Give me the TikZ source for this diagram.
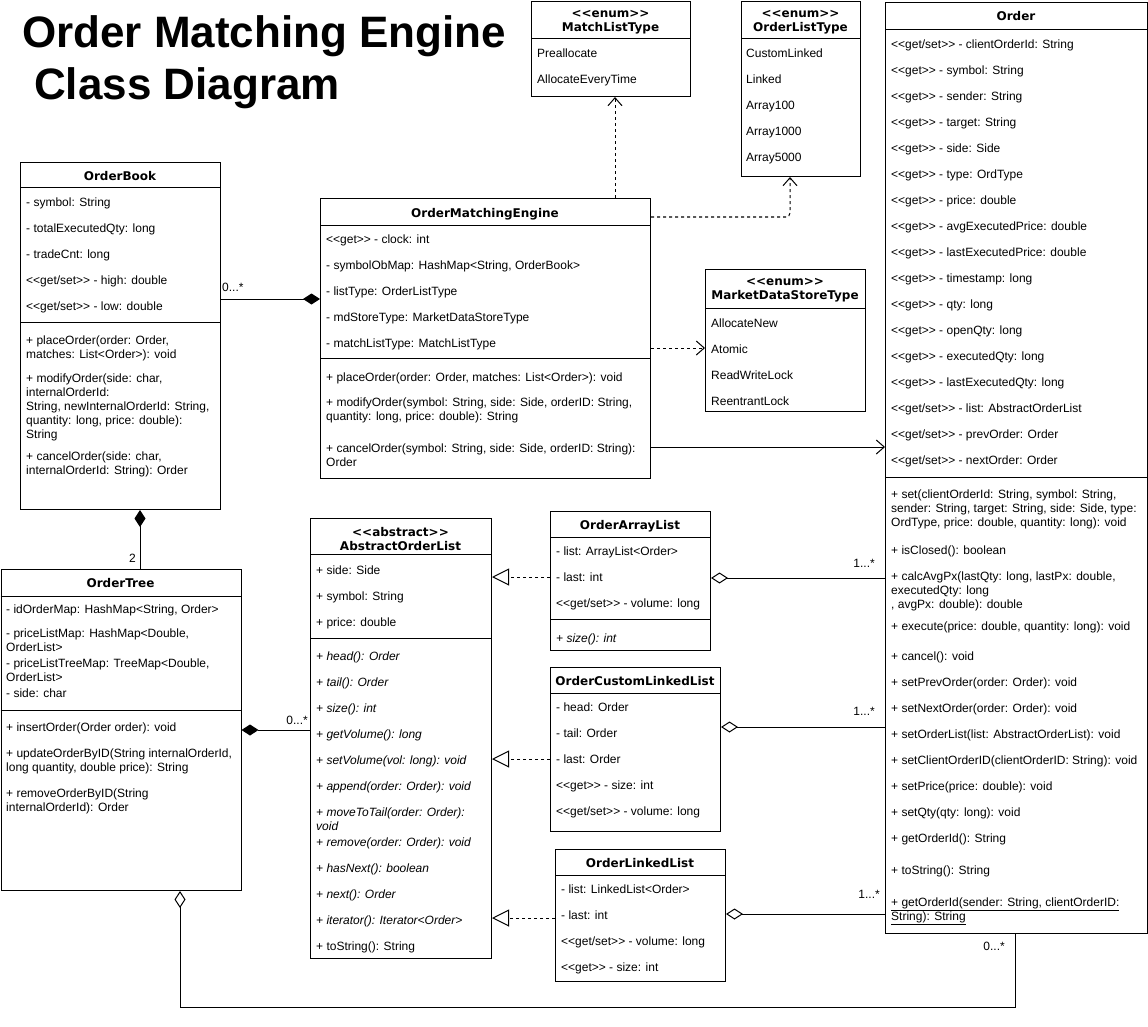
\documentclass[tikz,border=0pt]{standalone}
\usepackage{fontspec}
\setmainfont{Liberation Sans}
\newfontfamily\headfont{DejaVu Sans}
\usetikzlibrary{arrows.meta,positioning}

\newcommand{\ltlt}{<\kern0pt<}
\newcommand{\gtgt}{>\kern0pt>}
\newcommand{\getset}{\ltlt get/set\gtgt}
\newcommand{\getonly}{\ltlt get\gtgt}

\tikzset{
  cls/.style={draw, line width=1pt, fill=white, anchor=north west, inner sep=0pt},
  head/.style={font=\headfont\bfseries\fontsize{12}{14}\selectfont, align=center, anchor=north, inner sep=0pt, yshift=-1pt, execute at begin node=\strut},
  rows/.style={font=\fontsize{12}{14}\selectfont, align=left, anchor=north west, inner sep=0pt, yshift=-1.5pt, execute at begin node=\strut},
  title/.style={font=\bfseries\fontsize{44}{52}\selectfont, align=left, anchor=north west, inner sep=0pt, execute at begin node=\strut},
  mult/.style={font=\fontsize{12}{14}\selectfont, inner sep=0pt},
  sep/.style={line width=1pt},
  dep/.style={line width=1pt, dash pattern=on 3pt off 3pt, -{Straight Barb[length=8pt,width=14pt]}},
  real/.style={line width=1pt, dash pattern=on 3pt off 3pt, -{Triangle[open,length=17pt,width=17pt]}},
  assoc/.style={line width=1pt, -{Straight Barb[length=8pt,width=14pt]}},
  comp/.style={line width=1pt, -{Diamond[length=17pt,width=11pt]}},
  aggr/.style={line width=1pt, -{Diamond[open,length=17pt,width=11pt]}}
}

\begin{document}
\begin{tikzpicture}[x=1pt, y=-1pt]
  \path[use as bounding box, fill=white] (0,0) rectangle (1148,1027);

  % Title
  \node[title] (title) at (22,15) {Order Matching Engine\\\hspace*{12pt}Class Diagram};

  % Enums
  \node[cls, minimum width=159, minimum height=95] (mlt) at (531,1) {};
  \node[head] (mlth) at (610.5,8.7) {\ltlt enum\gtgt\\MatchListType};
  \draw[sep] (mlt.west |- 0,39) -- (mlt.east |- 0,39);
  \node[rows] (mltr) at (537,46.7) {Preallocate\\[12pt]AllocateEveryTime};

  \node[cls, minimum width=119, minimum height=175] (olt) at (741,1) {};
  \node[head] (olth) at (800.5,8.7) {\ltlt enum\gtgt\\OrderListType};
  \draw[sep] (olt.west |- 0,39) -- (olt.east |- 0,39);
  \node[rows] (oltr) at (746,46.7) {CustomLinked\\[12pt]Linked\\[12pt]Array100\\[12pt]Array1000\\[12pt]Array5000};

  \node[cls, minimum width=160, minimum height=142] (mdst) at (705,269) {};
  \node[head] (mdsth) at (785,276.7) {\ltlt enum\gtgt\\MarketDataStoreType};
  \draw[sep] (mdst.west |- 0,308) -- (mdst.east |- 0,308);
  \node[rows] (mdstr) at (711,316.7) {AllocateNew\\[12pt]Atomic\\[12pt]ReadWriteLock\\[12pt]ReentrantLock};

  % Order
  \node[cls, minimum width=262, minimum height=931] (order) at (885,2) {};
  \node[head] (orderh) at (1016,9.7) {Order};
  \draw[sep] (order.west |- 0,30) -- (order.east |- 0,30);
  \node[rows] (ordera) at (891,37.7) {\getset{} - clientOrderId: String\\[12pt]
    \getonly{} - symbol: String\\[12pt]
    \getonly{} - sender: String\\[12pt]
    \getonly{} - target: String\\[12pt]
    \getonly{} - side: Side\\[12pt]
    \getonly{} - type: OrdType\\[12pt]
    \getonly{} - price: double\\[12pt]
    \getonly{} - avgExecutedPrice: double\\[12pt]
    \getonly{} - lastExecutedPrice: double\\[12pt]
    \getonly{} - timestamp: long\\[12pt]
    \getonly{} - qty: long\\[12pt]
    \getonly{} - openQty: long\\[12pt]
    \getonly{} - executedQty: long\\[12pt]
    \getonly{} - lastExecutedQty: long\\[12pt]
    \getset{} - list: AbstractOrderList\\[12pt]
    \getset{} - prevOrder: Order\\[12pt]
    \getset{} - nextOrder: Order};
  \draw[sep] (order.west |- 0,477) -- (order.east |- 0,477);
  \node[rows] (orderm) at (891,487.7) {+ set(clientOrderId: String, symbol: String,\\
    sender: String, target: String, side: Side, type:\\
    OrdType, price: double, quantity: long): void\\[14pt]
    + isClosed(): boolean\\[12pt]
    + calcAvgPx(lastQty: long, lastPx: double,\\
    executedQty: long\\
    , avgPx: double): double\\[8pt]
    + execute(price: double, quantity: long): void\\[16pt]
    + cancel(): void\\[12pt]
    + setPrevOrder(order: Order): void\\[12pt]
    + setNextOrder(order: Order): void\\[12pt]
    + setOrderList(list: AbstractOrderList): void\\[12pt]
    + setClientOrderID(clientOrderID: String): void\\[12pt]
    + setPrice(price: double): void\\[12pt]
    + setQty(qty: long): void\\[12pt]
    + getOrderId(): String\\[18pt]
    + toString(): String\\[18pt]
    \underline{+ getOrderId(sender: String, clientOrderID:}\\
    \underline{String): String}};

  % OrderBook
  \node[cls, minimum width=200, minimum height=347] (book) at (20,162) {};
  \node[head] (bookh) at (120,169.7) {OrderBook};
  \draw[sep] (book.west |- 0,188) -- (book.east |- 0,188);
  \node[rows] (booka) at (26,195.7) {- symbol: String\\[12pt]
    - totalExecutedQty: long\\[12pt]
    - tradeCnt: long\\[12pt]
    \getset{} - high: double\\[12pt]
    \getset{} - low: double};
  \draw[sep] (book.west |- 0,322) -- (book.east |- 0,322);
  \node[rows] (bookm) at (26,333.7) {+ placeOrder(order: Order,\\
    matches: List<Order>): void\\[10pt]
    + modifyOrder(side: char,\\
    internalOrderId:\\
    String, newInternalOrderId: String,\\
    quantity: long, price: double):\\
    String\\[8pt]
    + cancelOrder(side: char,\\
    internalOrderId: String): Order};

  % OrderMatchingEngine
  \node[cls, minimum width=330, minimum height=280] (ome) at (320,198) {};
  \node[head] (omeh) at (485,206.7) {OrderMatchingEngine};
  \draw[sep] (ome.west |- 0,225) -- (ome.east |- 0,225);
  \node[rows] (omea) at (326,232.7) {\getonly{} - clock: int\\[12pt]
    - symbolObMap: HashMap<String, OrderBook>\\[12pt]
    - listType: OrderListType\\[12pt]
    - mdStoreType: MarketDataStoreType\\[12pt]
    - matchListType: MatchListType};
  \draw[sep] (ome.west |- 0,358) -- (ome.east |- 0,358);
  \node[rows] (omem) at (326,370.7) {+ placeOrder(order: Order, matches: List<Order>): void\\[11pt]
    + modifyOrder(symbol: String, side: Side, orderID: String,\\
    quantity: long, price: double): String\\[18pt]
    + cancelOrder(symbol: String, side: Side, orderID: String):\\
    Order};

  % OrderTree
  \node[cls, minimum width=240, minimum height=321] (tree) at (0.5,569) {};
  \node[head] (treeh) at (120.5,576.7) {OrderTree};
  \draw[sep] (tree.west |- 0,596) -- (tree.east |- 0,596);
  \node[rows] (treea) at (6,602.7) {- idOrderMap: HashMap<String, Order>\\[10pt]
    - priceListMap: HashMap<Double,\\
    OrderList>\\[2pt]
    - priceListTreeMap: TreeMap<Double,\\
    OrderList>\\[2pt]
    - side: char};
  \draw[sep] (tree.west |- 0,710) -- (tree.east |- 0,710);
  \node[rows] (treem) at (6,720.7) {+ insertOrder(Order order): void\\[12pt]
    + updateOrderByID(String internalOrderId,\\
    long quantity, double price): String\\[12pt]
    + removeOrderByID(String\\
    internalOrderId): Order};

  % AbstractOrderList
  \node[cls, minimum width=181, minimum height=440] (aol) at (310,518) {};
  \node[head] (aolh) at (400.5,525.7) {\ltlt abstract\gtgt\\AbstractOrderList};
  \draw[sep] (aol.west |- 0,554) -- (aol.east |- 0,554);
  \node[rows] (aola) at (316,563.7) {+ side: Side\\[12pt]
    + symbol: String\\[12pt]
    + price: double};
  \draw[sep] (aol.west |- 0,638) -- (aol.east |- 0,638);
  \node[rows] (aolm) at (316,649.7) {\textit{+ head(): Order}\\[12pt]
    \textit{+ tail(): Order}\\[12pt]
    \textit{+ size(): int}\\[12pt]
    \textit{+ getVolume(): long}\\[12pt]
    \textit{+ setVolume(vol: long): void}\\[12pt]
    \textit{+ append(order: Order): void}\\[12pt]
    \textit{+ moveToTail(order: Order):}\\
    \textit{void}\\[2pt]
    \textit{+ remove(order: Order): void}\\[12pt]
    \textit{+ hasNext(): boolean}\\[12pt]
    \textit{+ next(): Order}\\[12pt]
    \textit{+ iterator(): Iterator<Order>}\\[12pt]
    + toString(): String};

  % Order lists
  \node[cls, minimum width=160, minimum height=139] (oal) at (550,511) {};
  \node[head] (oalh) at (630,518.7) {OrderArrayList};
  \draw[sep] (oal.west |- 0,537) -- (oal.east |- 0,537);
  \node[rows] (oala) at (556,544.7) {- list: ArrayList<Order>\\[12pt]
    - last: int\\[12pt]
    \getset{} - volume: long};
  \draw[sep] (oal.west |- 0,619) -- (oal.east |- 0,619);
  \node[rows] (oalm) at (556,630.7) {\textit{+ size(): int}};

  \node[cls, minimum width=170, minimum height=164] (ocll) at (550,667) {};
  \node[head] (ocllh) at (635,674.7) {OrderCustomLinkedList};
  \draw[sep] (ocll.west |- 0,693) -- (ocll.east |- 0,693);
  \node[rows] (oclla) at (556,700.7) {- head: Order\\[12pt]
    - tail: Order\\[12pt]
    - last: Order\\[12pt]
    \getonly{} - size: int\\[12pt]
    \getset{} - volume: long};

  \node[cls, minimum width=170, minimum height=132] (oll) at (555,849) {};
  \node[head] (ollh) at (640,856.7) {OrderLinkedList};
  \draw[sep] (oll.west |- 0,875) -- (oll.east |- 0,875);
  \node[rows] (olla) at (561,882.7) {- list: LinkedList<Order>\\[12pt]
    - last: int\\[12pt]
    \getset{} - volume: long\\[12pt]
    \getonly{} - size: int};

  % Dependencies
  \draw[dep] (ome.north -| 615,0) -- (mlt.south -| 615,0);
  \draw[dep, rounded corners=4pt] (ome.east |- 0,217) -| (olt.south -| 790,0);
  \draw[dep] (ome.east |- 0,348) -- (mdst.west |- 0,348);
  \draw[assoc] (ome.east |- 0,447) -- (order.west |- 0,447);

  % Compositions
  \draw[comp] (book.east |- 0,299) -- (ome.west |- 0,299);
  \node[mult, anchor=base west] (m1) at (222,291) {0...*};
  \draw[comp] (tree.north -| 140,0) -- (book.south -| 140,0);
  \node[mult, anchor=base west] (m2) at (129,562) {2};
  \draw[comp] (aol.west |- 0,730) -- (tree.east |- 0,730);
  \node[mult, anchor=base east] (m3) at (308,724) {0...*};

  % Realizations
  \draw[real] (oal.west |- 0,577) -- (aol.east |- 0,577);
  \draw[real] (ocll.west |- 0,759) -- (aol.east |- 0,759);
  \draw[real] (oll.west |- 0,918) -- (aol.east |- 0,918);

  % Aggregations
  \draw[aggr] (order.west |- 0,578) -- (oal.east |- 0,578);
  \node[mult, anchor=base east] (m4) at (875,567) {1...*};
  \draw[aggr] (order.west |- 0,727) -- (ocll.east |- 0,727);
  \node[mult, anchor=base east] (m5) at (875,715) {1...*};
  \draw[aggr] (order.west |- 0,914) -- (oll.east |- 0,914);
  \node[mult, anchor=base east] (m6) at (880,898) {1...*};
  \coordinate (lowR) at (1015,1007);
  \coordinate (lowL) at (180,1007);
  \draw[aggr] (order.south -| lowR) -- (lowR) -- (lowL) -- (tree.south -| lowL);
  \node[mult, anchor=base east] (m7) at (1005,950) {0...*};
\end{tikzpicture}
\end{document}
